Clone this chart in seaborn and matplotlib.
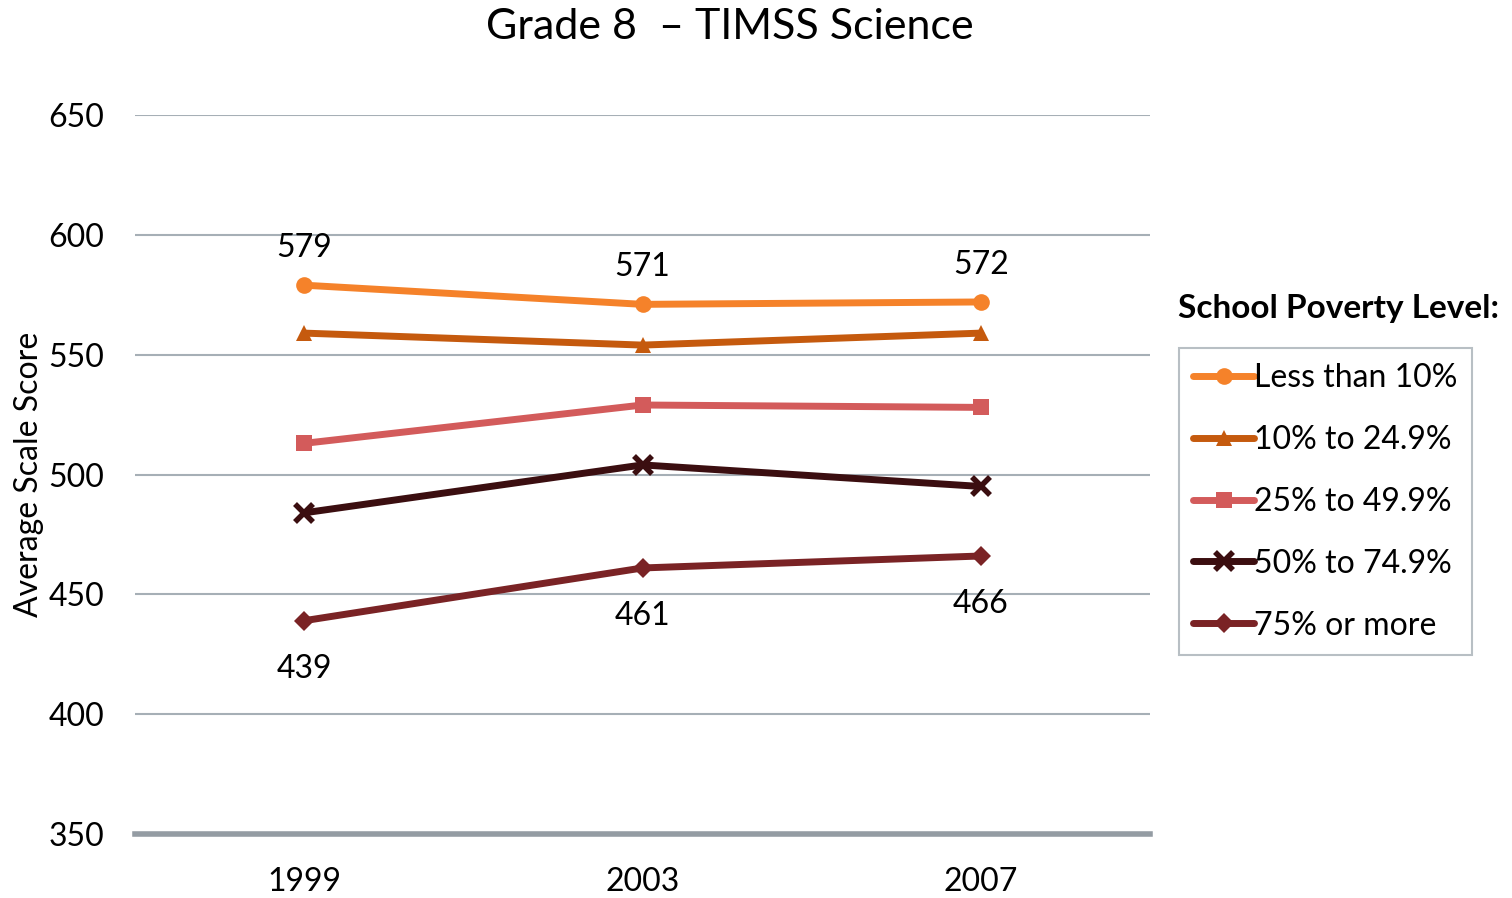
import matplotlib
matplotlib.use("Agg")
import matplotlib.pyplot as plt
import seaborn as sns
import pandas as pd

# data
years = [1999, 2003, 2007]
levels = ["Less than 10%", "10% to 24.9%", "25% to 49.9%", "50% to 74.9%", "75% or more"]
less_10 = [579, 571, 572]
p10_249 = [559, 554, 559]
p25_499 = [513, 529, 528]
p50_749 = [484, 504, 495]
p75_more = [439, 461, 466]

colors = ["#F5822A", "#C55A0E", "#D35B5B", "#3B0E10", "#7A2325"]
markers = ["o", "^", "s", "x", "D"]

rows = []
for lvl, vals in zip(levels, [less_10, p10_249, p25_499, p50_749, p75_more]):
    for y, v in zip(years, vals):
        rows.append({"year": y, "score": v, "level": lvl})
df = pd.DataFrame(rows)

sns.set_style("white")
plt.rcParams["font.family"] = ["Lato", "DejaVu Sans"]
plt.rcParams["text.color"] = "black"
plt.rcParams["xtick.color"] = "black"
plt.rcParams["ytick.color"] = "black"
plt.rcParams["axes.labelcolor"] = "black"

fig = plt.figure(figsize=(15.12, 8.98), dpi=100)
ax = fig.add_axes([0.0893, 0.0713, 0.6713, 0.8006])

for lvl, c, m in zip(levels, colors, markers):
    sub = df[df["level"] == lvl]
    ms = {"o": 12, "^": 12, "s": 11, "x": 13, "D": 10}[m]
    sns.lineplot(data=sub, x="year", y="score", ax=ax, color=c, linewidth=5,
                 marker=m, markersize=ms, markeredgewidth=4 if m == "x" else 0,
                 markeredgecolor=c, label=lvl, zorder=3)

# value labels on top and bottom series
for y, v in zip(years, less_10):
    ax.annotate(str(v), (y, v), xytext=(0, 16), textcoords="offset points",
                ha="center", va="bottom", fontsize=23)
for y, v in zip(years, p75_more):
    ax.annotate(str(v), (y, v), xytext=(0, -24), textcoords="offset points",
                ha="center", va="top", fontsize=23)

ax.set_xlim(1997, 2009)
ax.set_ylim(350, 650)
ax.set_xticks(years)
ax.set_yticks(range(350, 651, 50))
ax.tick_params(axis="both", length=0, labelsize=23)
ax.tick_params(axis="x", pad=24)
ax.tick_params(axis="y", pad=22)
ax.yaxis.grid(True, color="#A6AFB6", linewidth=1.5)
ax.set_axisbelow(True)
for s in ["top", "right", "left"]:
    ax.spines[s].set_visible(False)
ax.spines["bottom"].set_color("#949CA3")
ax.spines["bottom"].set_linewidth(4)

ax.set_xlabel("")
ax.set_ylabel("Average Scale Score", fontsize=23, labelpad=3)
fig.text(0.4825, 0.97, "Grade 8  \u2013 TIMSS Science", ha="center", va="center", fontsize=31)

fig.text(0.8855, 0.657, "School Poverty Level:", ha="center", va="center",
         fontsize=24, fontweight="bold")
leg = ax.legend(loc="upper left", bbox_to_anchor=(0.7798, 0.612), bbox_transform=fig.transFigure,
                fontsize=23, frameon=True, fancybox=False, handlelength=1.9,
                handletextpad=0.0, labelspacing=1.0, borderpad=0.45, borderaxespad=0)
leg.get_frame().set_edgecolor("#A6AFB6")
leg.get_frame().set_linewidth(1.5)

fig.savefig("out.png", dpi=100)
